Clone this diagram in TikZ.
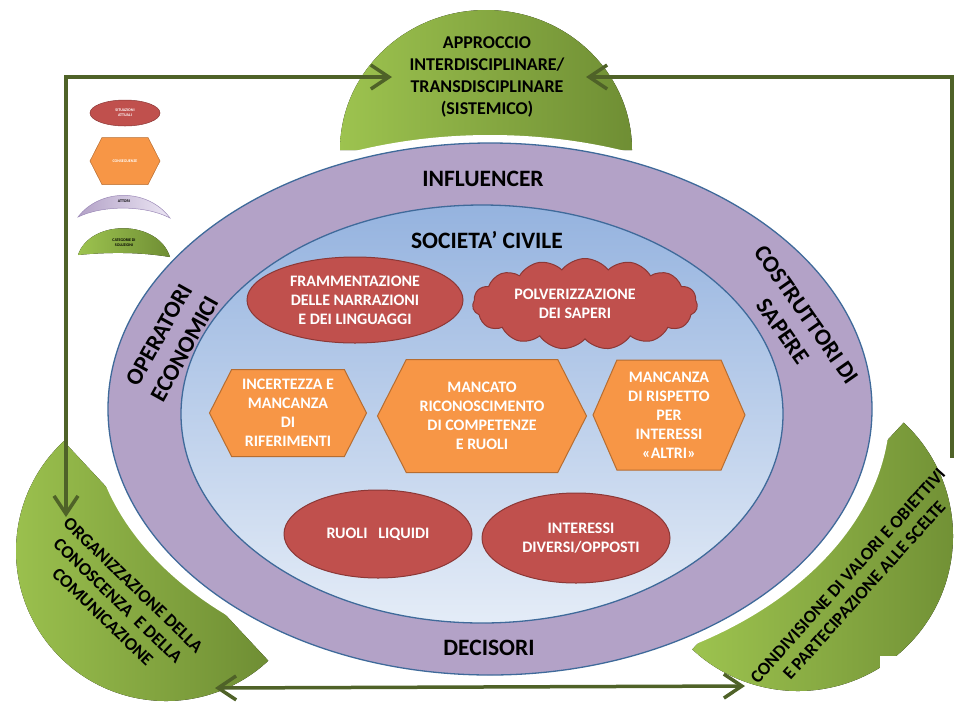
\documentclass[tikz,border=0pt]{standalone}
\usepackage{fontspec}
\setmainfont{Carlito}
\usetikzlibrary{shapes.geometric}
\usetikzlibrary{shapes.symbols}
\usetikzlibrary{arrows.meta}

\definecolor{rosso}{HTML}{C0504D}
\definecolor{rossoB}{HTML}{8C3836}
\definecolor{arancio}{HTML}{F79646}
\definecolor{arancioB}{HTML}{B66D31}
\definecolor{viola}{HTML}{B3A2C7}
\definecolor{violaC}{HTML}{ECE6F4}
\definecolor{violaB}{HTML}{9C8AB8}
\definecolor{bluB}{HTML}{3F6A9A}
\definecolor{bluA}{HTML}{95B3DF}
\definecolor{bluC}{HTML}{E4ECF7}
\definecolor{verdeC}{HTML}{9DC34F}
\definecolor{verdeS}{HTML}{6F8E34}
\definecolor{cornice}{HTML}{4F6228}

\begin{document}
\begin{tikzpicture}[x=1pt,y=-1pt,font=\bfseries,>={Straight Barb[length=18pt,width=24pt]},
situazione/.style={draw=rossoB,fill=rosso,ellipse,inner sep=0pt,line width=1pt},
nuvola/.style={draw=rossoB,fill=rosso,cloud,cloud puffs=15,cloud puff arc=105,aspect=2.5,inner sep=0pt,line width=1pt},
conseguenza/.style={draw=arancioB,fill=arancio,signal,signal to=east and west,signal pointer angle=126,inner sep=0pt,line width=1pt},
anello/.style={draw=bluB,line width=1.3pt},
verde/.style={left color=verdeC,right color=verdeS},
testoC/.style={align=center,text=white,font=\fontsize{16}{19}\bfseries},
testoV/.style={align=center,font=\fontsize{18}{22}\bfseries},
attore/.style={align=center,font=\fontsize{23.5}{29}\bfseries},
legenda/.style={align=center,font=\fontsize{4}{5}\bfseries},
freccia/.style={cornice,line width=3.5pt,line join=miter}
]
\useasboundingbox (0,0) rectangle (955,702);
%-- categorie di soluzioni
\fill[verde] (340,150) arc[start angle=180,end angle=360,x radius=146,y radius=140] -- cycle;
\fill[verde] (166,551) ++(47:150) arc[start angle=47,end angle=227,radius=150] -- cycle;
\fill[verde] (798,536) ++(-47:155) arc[start angle=-47,end angle=133,radius=155] -- cycle;
\fill[white] (880,656) rectangle (955,702);
%-- attori
\fill[white] (490,409) ellipse[x radius=400,y radius=274];
\draw[anello,fill=viola] (490,409) ellipse[x radius=382,y radius=266];
\draw[anello,top color=bluA,middle color=bluA!85!bluC,bottom color=bluC] (482,414) ellipse[x radius=301,y radius=209];
\node[attore] (infl) at (483,179) {INFLUENCER};
\node[attore] (dec) at (489,648) {DECISORI};
\node[attore,rotate=61] (oper) at (172,342) {OPERATORI\\ECONOMICI};
\node[attore,rotate=-55] (costr) at (795,323) {COSTRUTTORI DI\\SAPERE};
\node[attore] (soc) at (487,240) {SOCIETA’ CIVILE};
%----
\node[situazione,minimum width=216pt,minimum height=86pt] (fram) at (355,300) {};
\node[testoC] (tfram) at (fram.center) {FRAMMENTAZIONE\\DELLE NARRAZIONI\\E DEI LINGUAGGI};
\node[nuvola,minimum width=225pt,minimum height=91pt] (polv) at (585,304) {};
\node[testoC] (tpolv) at ([xshift=-10pt]polv.center) {POLVERIZZAZIONE\\DEI SAPERI};
%--
\node[conseguenza,minimum width=157pt,minimum height=87pt] (inc) at (288,413) {};
\node[testoC] (tinc) at (inc.center) {INCERTEZZA E\\MANCANZA\\DI\\RIFERIMENTI};
\node[conseguenza,minimum width=209pt,minimum height=113pt] (manc) at (482,416) {};
\node[testoC] (tmanc) at (manc.center) {MANCATO\\RICONOSCIMENTO\\DI COMPETENZE\\E RUOLI};
\node[conseguenza,signal pointer angle=133,minimum width=152pt,minimum height=110pt] (risp) at (669,415) {};
\node[testoC] (trisp) at (risp.center) {MANCANZA\\DI RISPETTO\\PER\\INTERESSI\\«ALTRI»};
%--
\node[situazione,minimum width=188pt,minimum height=88pt] (ruoli) at (378,534) {};
\node[testoC] (truoli) at (ruoli.center) {RUOLI\ \ \ LIQUIDI};
\node[situazione,minimum width=188pt,minimum height=90pt] (inter) at (576,538) {};
\node[testoC] (tinter) at ([xshift=5pt]inter.center) {INTERESSI\\DIVERSI/OPPOSTI};
%----
\node[testoV] (tappr) at (487,77) {APPROCCIO\\INTERDISCIPLINARE/\\TRANSDISCIPLINARE\\(SISTEMICO)};
\node[testoV,rotate=-44] (torg) at (118,601) {ORGANIZZAZIONE DELLA\\CONOSCENZA\ \ E DELLA\\COMUNICAZIONE};
\node[testoV,rotate=48] (tcond) at (856,583) {CONDIVISIONE DI VALORI E OBIETTIVI\\E PARTECIPAZIONE ALLE SCELTE};
%-- legenda
\node[situazione,line width=0.5pt,minimum width=70pt,minimum height=26pt] (leg1) at (125,113) {};
\node[legenda,text=white] (tleg1) at (leg1.center) {SITUAZIONI\\ATTUALI};
\node[conseguenza,line width=0.5pt,minimum width=70pt,minimum height=47pt] (leg2) at (125,161) {};
\node[legenda,text=white] (tleg2) at (leg2.center) {CONSEGUENZE};
\draw[violaB,line width=0.5pt,left color=viola,right color=violaC] (78,217) .. controls (100,188) and (148,188) .. (170,218) .. controls (145,205) and (103,205) .. cycle;
\node[legenda] (tleg3) at (124,201) {ATTORI};
\fill[verde] (78,255) .. controls (90,219) and (158,219) .. (170,257) .. controls (140,252) and (108,252) .. cycle;
\node[legenda] (tleg4) at (124,243) {CATEGORIE DI\\SOLUZIONI};
%-- cornice
\coordinate (angS) at (66,77);
\coordinate (angD) at (952,77);
\coordinate (pS) at (66,517);
\coordinate (pA1) at (392,77);
\coordinate (pA2) at (586,77);
\coordinate (pD) at (952,458);
\coordinate (pB1) at (215,688);
\coordinate (pB2) at (745,686);
\draw[freccia,<->] (pS) -- (angS) -- (pA1);
\draw[freccia,<-] (pA2) -- (angD) -- (pD);
\draw[freccia,<->] (pB1) -- (pB2);
\end{tikzpicture}
\end{document}
